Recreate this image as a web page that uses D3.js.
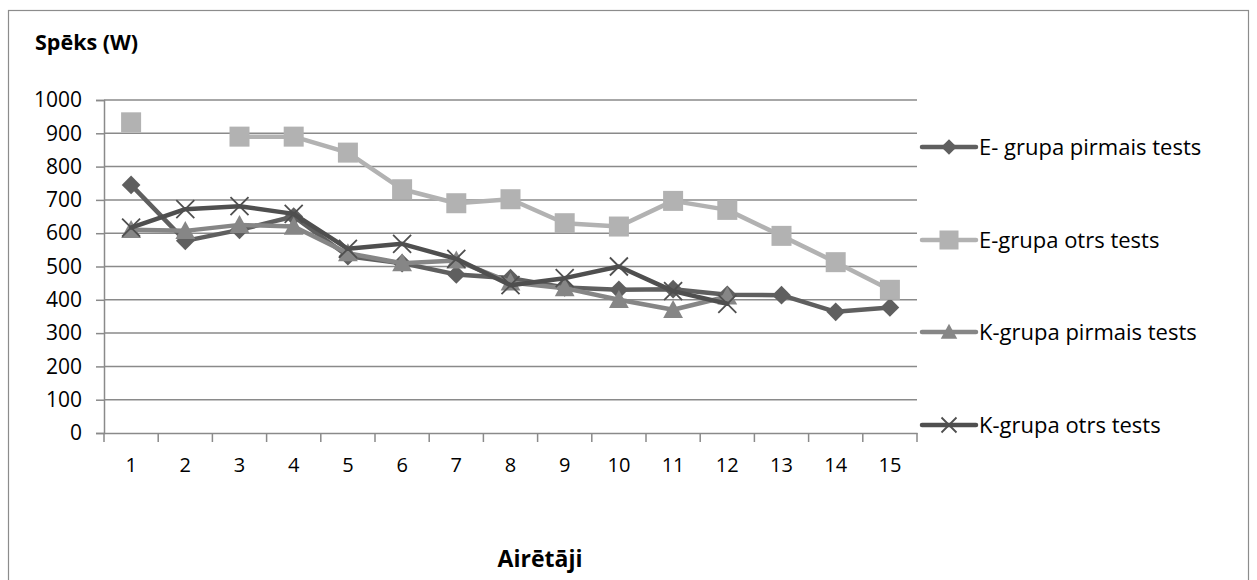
<!DOCTYPE html>
<html>
<head>
<meta charset="utf-8">
<script src="https://cdn.jsdelivr.net/npm/d3@7"></script>
<style>
body { margin: 0; background: #fff; }
svg { display: block; font-family: "Open Sans", "Noto Sans", sans-serif; }
</style>
</head>
<body>
<svg id="chart" width="1257" height="580"></svg>
<script>
const categories = ["1","2","3","4","5","6","7","8","9","10","11","12","13","14","15"];
const yTicks = [0,100,200,300,400,500,600,700,800,900,1000];
const seriesNames = ["E- grupa pirmais tests","E-grupa otrs tests","K-grupa pirmais tests","K-grupa otrs tests"];
const eFirst  = [745, 577, 610, 650, 531, 510, 476, 465, 437, 430, 432, 415, 414, 364, 377];
const eSecond = [933, null, 890, 890, 842, 732, 690, 702, 630, 620, 697, 670, 592, 513, 430];
const kFirst  = [610, 607, 625, 620, 540, 510, 518, 452, 435, 400, 370, 410, null, null, null];
const kSecond = [617, 672, 681, 658, 553, 568, 523, 444, 465, 500, 426, 388, null, null, null];
const seriesColors = ["#5f5f5f", "#b2b2b2", "#868686", "#4f4f4f"];
const seriesMarkers = ["diamond", "square", "triangle", "cross"];
const seriesValues = [eFirst, eSecond, kFirst, kSecond];

const svg = d3.select("#chart");
const L = 104, R = 917, T = 100, B = 433;
const FONT = "Open Sans";

// outer border
svg.append("rect").attr("x", 8.5).attr("y", 10.5).attr("width", 1240).attr("height", 620)
  .attr("fill", "none").attr("stroke", "#8c8c8c").attr("stroke-width", 1.2);

const x = d3.scaleBand().domain(categories).range([L, R]);
const y = d3.scaleLinear().domain([0, 1000]).range([B, T]);

// gridlines
svg.append("g").selectAll("line").data(yTicks.filter(d => d > 0)).join("line")
  .attr("x1", L).attr("x2", R).attr("y1", d => y(d)).attr("y2", d => y(d))
  .attr("stroke", "#8a8a8a").attr("stroke-width", 1.5);

// y axis
const yAxis = d3.axisLeft(y).tickValues(yTicks).tickFormat(d3.format("d")).tickSize(8).tickPadding(14);
const gy = svg.append("g").attr("transform", `translate(${L},0)`).call(yAxis);
gy.select(".domain").attr("stroke", "#8a8a8a").attr("stroke-width", 1.5);
gy.selectAll(".tick line").attr("stroke", "#8a8a8a").attr("stroke-width", 1.5);
gy.selectAll(".tick text").attr("font-size", 21).attr("fill", "#000").attr("font-family", FONT);

// x axis
const xAxis = d3.axisBottom(x).tickSize(0).tickPadding(32);
const gx = svg.append("g").attr("transform", `translate(0,${B})`).call(xAxis);
gx.select(".domain").attr("stroke", "#8a8a8a").attr("stroke-width", 1.5);
gx.selectAll(".tick text").attr("font-size", 20).attr("fill", "#000").attr("font-family", FONT)
  .attr("dy", "0.35em");
// x tick marks at band boundaries
const bounds = categories.map(c => x(c)).concat([x(categories[categories.length - 1]) + x.bandwidth()]);
svg.append("g").selectAll("line").data(bounds).join("line")
  .attr("x1", d => d).attr("x2", d => d).attr("y1", B).attr("y2", B + 9)
  .attr("stroke", "#8a8a8a").attr("stroke-width", 1.5);

// titles
svg.append("text").attr("x", 35).attr("y", 50).attr("font-size", 21.5).attr("font-weight", "bold")
  .attr("font-family", FONT).text("Spēks (W)");
svg.append("text").attr("x", 540).attr("y", 567).attr("text-anchor", "middle")
  .attr("font-size", 23).attr("font-weight", "bold").attr("font-family", FONT).text("Airētāji");

function drawMarker(g, type, cx, cy, color, s) {
  if (type === "diamond") {
    g.append("path").attr("d", `M${cx},${cy - s * 0.52}L${cx + s * 0.52},${cy}L${cx},${cy + s * 0.52}L${cx - s * 0.52},${cy}Z`)
      .attr("fill", color);
  } else if (type === "square") {
    g.append("rect").attr("x", cx - s / 2).attr("y", cy - s / 2).attr("width", s).attr("height", s).attr("fill", color);
  } else if (type === "triangle") {
    g.append("path").attr("d", `M${cx},${cy - s * 0.55}L${cx + s * 0.55},${cy + s * 0.45}L${cx - s * 0.55},${cy + s * 0.45}Z`)
      .attr("fill", color);
  } else {
    const h = s * 0.5;
    g.append("path").attr("d", `M${cx - h},${cy - h}L${cx + h},${cy + h}M${cx - h},${cy + h}L${cx + h},${cy - h}`)
      .attr("stroke", color).attr("stroke-width", 1.8).attr("fill", "none");
  }
}

const cx = c => x(c) + x.bandwidth() / 2;
const line = d3.line().defined(d => d.v !== null).x(d => cx(d.c)).y(d => y(d.v));

seriesValues.forEach((vals, i) => {
  const data = categories.map((c, j) => ({ c, v: vals[j] }));
  const g = svg.append("g");
  g.append("path").datum(data).attr("d", line).attr("fill", "none")
    .attr("stroke", seriesColors[i]).attr("stroke-width", 4.5).attr("stroke-linejoin", "round").attr("stroke-linecap", "round");
  data.filter(d => d.v !== null).forEach(d => {
    drawMarker(g, seriesMarkers[i], cx(d.c), y(d.v), seriesColors[i], seriesMarkers[i] === "square" ? 20 : 18);
  });
});

// legend
const legY = [147, 240, 332, 425];
seriesNames.forEach((name, i) => {
  const g = svg.append("g");
  g.append("line").attr("x1", 922).attr("x2", 976).attr("y1", legY[i]).attr("y2", legY[i])
    .attr("stroke", seriesColors[i]).attr("stroke-width", 4.5).attr("stroke-linecap", "round");
  drawMarker(g, seriesMarkers[i], 949, legY[i], seriesColors[i], seriesMarkers[i] === "square" ? 19 : 15);
  g.append("text").attr("x", 979).attr("y", legY[i]).attr("dy", "0.36em").attr("font-size", 22)
    .attr("font-family", FONT).text(name);
});
</script>
</body>
</html>
